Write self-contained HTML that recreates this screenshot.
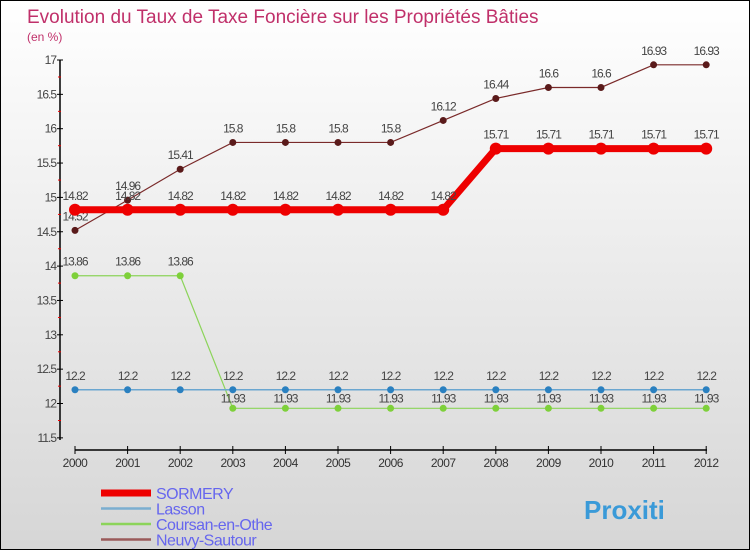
<!DOCTYPE html>
<html><head><meta charset="utf-8"><style>
body{margin:0}
#c{width:748px;height:548px;border:1px solid #000;background:linear-gradient(#fff,#d6d6d6);position:relative;font-family:"Liberation Sans",sans-serif;overflow:hidden}
</style></head><body>
<div id="c">
<svg id="s" width="748" height="548" xmlns="http://www.w3.org/2000/svg">
<text x="26" y="22" font-size="19" fill="#c0306a">Evolution du Taux de Taxe Foncière sur les Propriétés Bâties</text>
<text x="26" y="40" font-size="12" fill="#c0306a">(en %)</text>
</svg>
</div>
<script>
const years=[2000,2001,2002,2003,2004,2005,2006,2007,2008,2009,2010,2011,2012];
const sormery=[14.82,14.82,14.82,14.82,14.82,14.82,14.82,14.82,15.71,15.71,15.71,15.71,15.71];
const lasson=[12.2,12.2,12.2,12.2,12.2,12.2,12.2,12.2,12.2,12.2,12.2,12.2,12.2];
const coursan=[13.86,13.86,13.86,11.93,11.93,11.93,11.93,11.93,11.93,11.93,11.93,11.93,11.93];
const neuvy=[14.52,14.96,15.41,15.8,15.8,15.8,15.8,16.12,16.44,16.6,16.6,16.93,16.93];
const yTicks=[11.5,12,12.5,13,13.5,14,14.5,15,15.5,16,16.5,17];
const names=["SORMERY","Lasson","Coursan-en-Othe","Neuvy-Sautour"];
const NS="http://www.w3.org/2000/svg",s=document.getElementById('s');
const X=i=>74+i*52.6, Y=v=>59+(17-v)*68.7;
function el(t,a,p){const e=document.createElementNS(NS,t);for(const k in a)e.setAttribute(k,a[k]);(p||s).appendChild(e);return e;}
let ax=el('line',{x1:59,y1:59,x2:59,y2:439,stroke:'#000','stroke-width':1.5});


let xa=el('line',{x1:74,y1:449,x2:706,y2:449,stroke:'#000','stroke-width':1.5});


yTicks.forEach(v=>{el('line',{x1:56,x2:62,y1:Y(v),y2:Y(v),stroke:'#000'});
if(v>11.5)el('line',{x1:57,x2:60,y1:Y(v)+17,y2:Y(v)+17,stroke:'#e00'});
const t=el('text',{x:55,y:Y(v)+4,'text-anchor':'end','font-size':12,fill:'#444','letter-spacing':'-1'});t.textContent=v;

});
years.forEach((y,i)=>{el('line',{x1:X(i),x2:X(i),y1:445,y2:453,stroke:'#000'});
const t=el('text',{x:X(i),y:466,'text-anchor':'middle','font-size':12,fill:'#333','letter-spacing':'-0.5'});t.textContent=y;

});
const series=[[neuvy,'#7a2a2a','#5a1a1a',1.2,3.5,'neuvy'],[coursan,'#8cd45a','#7ed03a',1.2,3.5,'coursan'],[lasson,'#6aa6d0','#2a80c0',1.5,3.5,'lasson'],[sormery,'#e00','#e00',7,6,'sormery']];
series.forEach(([d,c,pc,w,r,n])=>{
const l=el('polyline',{points:d.map((v,i)=>X(i)+','+Y(v)).join(' '),fill:'none',stroke:c,'stroke-width':w});


d.forEach((v,i)=>{const p=el('circle',{cx:X(i),cy:Y(v),r:r,fill:pc});


const t=el('text',{x:X(i),y:Y(v)-(n=='coursan'&&v<12?6:10),'text-anchor':'middle','font-size':12,fill:'#444','letter-spacing':'-1'});t.textContent=v;

});});
const lc=['#e00','#7aaed0','#8cd45a','#9a5a5a'],lw=[7,2.5,2.5,2.5];
names.forEach((n,i)=>{const y=492+i*15.5;
const l=el('line',{x1:100,x2:150,y1:y,y2:y,stroke:lc[i],'stroke-width':lw[i]});


const t=el('text',{x:155,y:y+6,'font-size':16,fill:'#6666ee','letter-spacing':'-0.5'});t.textContent=n;

});
const lg=el('text',{x:583,y:518,'font-size':26,'font-weight':'bold',fill:'#3a9ad8'});lg.textContent='Proxiti';


</script>
</body></html>
